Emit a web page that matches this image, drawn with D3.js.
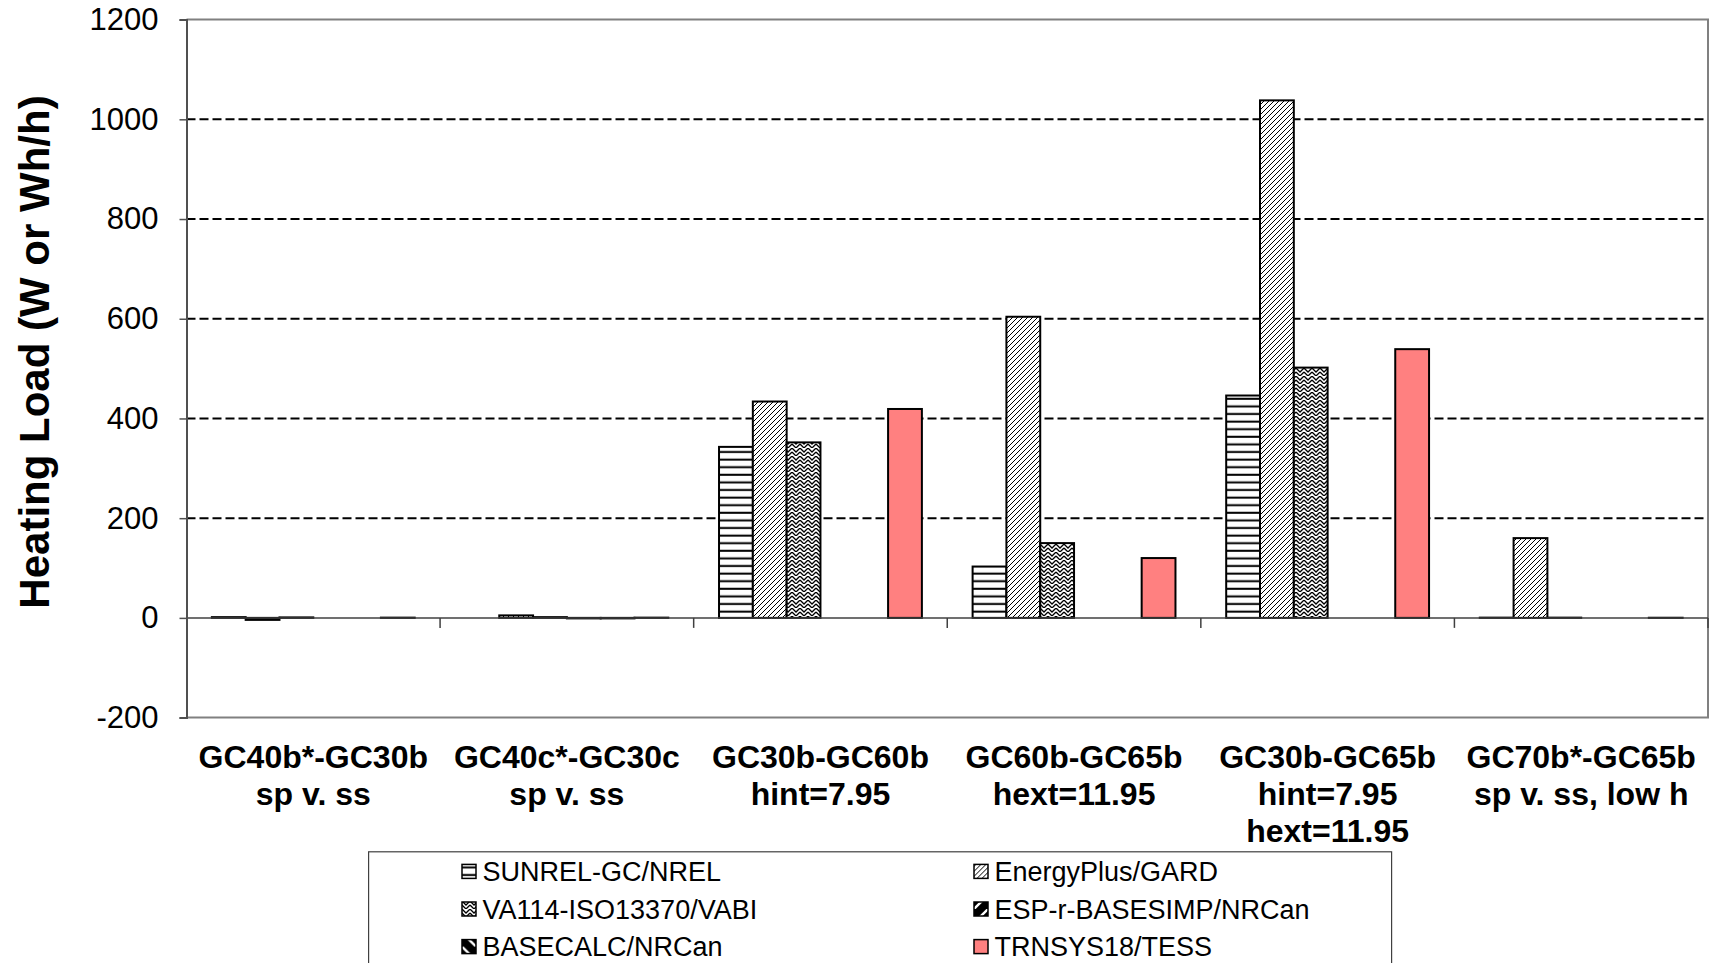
<!DOCTYPE html>
<html>
<head>
<meta charset="utf-8">
<script src="https://cdn.jsdelivr.net/npm/d3@7"></script>
<style>
  html, body { margin: 0; padding: 0; background: #fff; }
  svg { display: block; }
  text { font-family: "Liberation Sans", Arial, Helvetica, sans-serif; }
</style>
</head>
<body>
<svg id="chart" width="1710" height="963"></svg>
<script>
// ---------------- DATA ----------------
const categories = [
  ["GC40b*-GC30b", "sp v. ss"],
  ["GC40c*-GC30c", "sp v. ss"],
  ["GC30b-GC60b", "hint=7.95"],
  ["GC60b-GC65b", "hext=11.95"],
  ["GC30b-GC65b", "hint=7.95", "hext=11.95"],
  ["GC70b*-GC65b", "sp v. ss, low h"]
];
const seriesNames = [
  "SUNREL-GC/NREL",
  "EnergyPlus/GARD",
  "VA114-ISO13370/VABI",
  "ESP-r-BASESIMP/NRCan",
  "BASECALC/NRCan",
  "TRNSYS18/TESS"
];
// values per series, one per category (null = no result)
const sunrel     = [1.5, null, 343, 103, 446, 0.5];
const energyPlus = [-4, 5, 434, 604, 1038, 160];
const va114      = [1, 1.5, 352, 150, 502, 0.5];
const espr       = [null, -1, null, null, null, null];
const basecalc   = [null, -1, null, null, null, null];
const trnsys     = [0.5, 0.5, 419, 120, 539, 0.3];
const seriesValues = [sunrel, energyPlus, va114, espr, basecalc, trnsys];
const yTicks = [-200, 0, 200, 400, 600, 800, 1000, 1200];

// ---------------- LAYOUT ----------------
const svg = d3.select("#chart");
const plotL = 186.5, plotR = 1708, plotT = 19.6, plotB = 717.6;

const x = d3.scaleBand().domain(d3.range(categories.length)).range([plotL, plotR]).paddingInner(0).paddingOuter(0);
const xs = d3.scaleBand().domain(d3.range(seriesNames.length)).range([0, x.bandwidth()]).paddingInner(0).paddingOuter(0.75);
const y = d3.scaleLinear().domain([-200, 1200]).range([plotB, plotT]);

// ---------------- PATTERNS ----------------
const defs = svg.append("defs");
let p = defs.append("pattern").attr("id", "pat0").attr("patternUnits", "userSpaceOnUse")
  .attr("width", 8).attr("height", 7.6);
p.append("rect").attr("width", 8).attr("height", 7.6).attr("fill", "#fff");
p.append("rect").attr("y", 2.6).attr("width", 8).attr("height", 2).attr("fill", "#000");
p = defs.append("pattern").attr("id", "pat1").attr("patternUnits", "userSpaceOnUse")
  .attr("width", 5).attr("height", 5);
p.append("rect").attr("width", 5).attr("height", 5).attr("fill", "#fff");
p.append("path").attr("d", "M-1,6 L6,-1 M-1,1 L1,-1 M4,6 L6,4").attr("stroke", "#000").attr("stroke-width", 1);
p = defs.append("pattern").attr("id", "pat2").attr("patternUnits", "userSpaceOnUse")
  .attr("width", 8).attr("height", 8);
p.append("rect").attr("width", 8).attr("height", 8).attr("fill", "#fff");
p.append("path").attr("d", "M0,0 L4,4 L8,0 M0,4 L4,8 L8,4").attr("stroke", "#000").attr("stroke-width", 1.3).attr("fill", "none");
p = defs.append("pattern").attr("id", "pat3").attr("patternUnits", "userSpaceOnUse")
  .attr("width", 14).attr("height", 14);
p.append("rect").attr("width", 14).attr("height", 14).attr("fill", "#000");
p.append("path").attr("d", "M-2,16 L16,-2").attr("stroke", "#fff").attr("stroke-width", 2.4);
p = defs.append("pattern").attr("id", "pat4").attr("patternUnits", "userSpaceOnUse")
  .attr("width", 14).attr("height", 14);
p.append("rect").attr("width", 14).attr("height", 14).attr("fill", "#000");
p.append("path").attr("d", "M-2,-2 L16,16").attr("stroke", "#fff").attr("stroke-width", 2.4);

const fills = ["url(#pat0)", "url(#pat1)", "url(#pat2)", "url(#pat3)", "url(#pat4)", "#FF8080"];

// ---------------- GRID ----------------
svg.append("g").selectAll("line")
  .data(yTicks.filter(t => t > 0 && t < 1200))
  .join("line")
  .attr("x1", plotL).attr("x2", plotR)
  .attr("y1", d => y(d)).attr("y2", d => y(d))
  .attr("stroke", "#000").attr("stroke-width", 2).attr("stroke-dasharray", "9,4");

svg.append("path")
  .attr("d", `M${plotL},${y(1200)} L${plotR},${y(1200)} L${plotR},${y(-200)} L${plotL},${y(-200)}`)
  .attr("fill", "none").attr("stroke", "#808080").attr("stroke-width", 2);

// ---------------- BARS ----------------
const barData = [];
seriesValues.forEach((vals, si) => {
  vals.forEach((v, ci) => { if (v !== null) barData.push({ si, ci, v }); });
});
svg.append("g").selectAll("rect")
  .data(barData)
  .join("rect")
  .attr("x", d => x(d.ci) + xs(d.si))
  .attr("width", xs.bandwidth())
  .attr("y", d => y(Math.max(0, d.v)))
  .attr("height", d => Math.abs(y(d.v) - y(0)))
  .attr("fill", d => fills[d.si])
  .attr("stroke", "#000").attr("stroke-width", 2);

// ---------------- AXES ----------------
svg.append("line")
  .attr("x1", plotL).attr("x2", plotR).attr("y1", y(0)).attr("y2", y(0))
  .attr("stroke", "#404040").attr("stroke-width", 1.5);
svg.append("g").selectAll("line")
  .data(d3.range(1, categories.length + 1))
  .join("line")
  .attr("x1", d => d < categories.length ? x(d) : plotR)
  .attr("x2", d => d < categories.length ? x(d) : plotR)
  .attr("y1", y(0)).attr("y2", y(0) + 10)
  .attr("stroke", "#404040").attr("stroke-width", 1.5);

const yAxis = d3.axisLeft(y).tickValues(yTicks).tickSize(7).tickPadding(21).tickFormat(d => String(d));
const ga = svg.append("g").attr("transform", `translate(${plotL},0)`).call(yAxis);
ga.select(".domain").attr("stroke", "#505050").attr("stroke-width", 2);
ga.selectAll(".tick line").attr("stroke", "#505050").attr("stroke-width", 1.5);
ga.selectAll(".tick text")
  .attr("font-family", "'Liberation Sans', Arial, sans-serif")
  .attr("font-size", 31).attr("fill", "#000");

svg.append("text")
  .attr("transform", `translate(49,352) rotate(-90)`)
  .attr("text-anchor", "middle")
  .attr("font-size", 42).attr("font-weight", "bold")
  .text("Heating Load (W or Wh/h)");

const catG = svg.append("g");
categories.forEach((lines, ci) => {
  const t = catG.append("text")
    .attr("text-anchor", "middle")
    .attr("font-size", 32).attr("font-weight", "bold");
  lines.forEach((ln, li) => {
    t.append("tspan").attr("x", x(ci) + x.bandwidth() / 2).attr("y", 767.5 + li * 37.1).text(ln);
  });
});

// ---------------- LEGEND ----------------
svg.append("rect")
  .attr("x", 368.6).attr("y", 851.8).attr("width", 1023).attr("height", 140)
  .attr("fill", "#fff").attr("stroke", "#404040").attr("stroke-width", 1.2);
const legCols = [462, 974];
const legRow0 = 871.4, legPitch = 37.6;
const lg = svg.append("g").selectAll("g")
  .data(seriesNames)
  .join("g")
  .attr("transform", (d, i) => `translate(${legCols[i % 2]},${legRow0 + Math.floor(i / 2) * legPitch})`);
lg.append("rect")
  .attr("x", 0).attr("y", -7).attr("width", 14).attr("height", 14)
  .attr("fill", (d, i) => fills[i]).attr("stroke", "#000").attr("stroke-width", 1.5);
lg.append("text")
  .attr("x", 20.5).attr("y", 9.5)
  .attr("font-size", 27)
  .text(d => d);
</script>
</body>
</html>
